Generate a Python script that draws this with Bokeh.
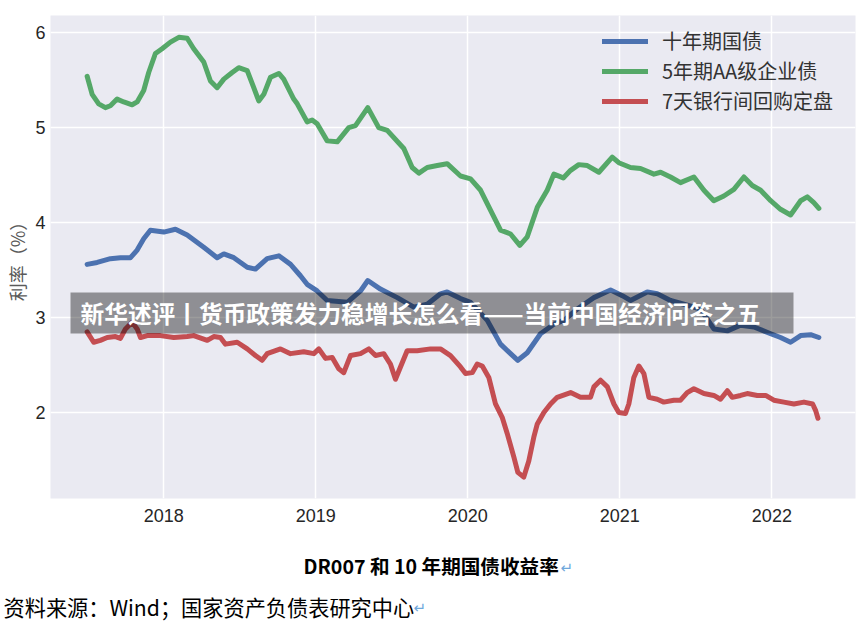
from bokeh.plotting import figure
from bokeh.models import Range1d, FixedTicker, Legend, LegendItem, Label, BoxAnnotation, Title
from bokeh.embed import file_html
from bokeh.resources import INLINE

# ---------------- data (decimal years, percent) ----------------
cgb_t = [2017.496, 2017.562, 2017.649, 2017.715, 2017.781, 2017.825, 2017.868, 2017.912,
         2018.000, 2018.077, 2018.154, 2018.263, 2018.351, 2018.395, 2018.461, 2018.549,
         2018.603, 2018.680, 2018.757, 2018.834, 2018.899, 2018.943, 2019.009, 2019.075,
         2019.207, 2019.294, 2019.342, 2019.425, 2019.536, 2019.645, 2019.733, 2019.820,
         2019.864, 2019.952, 2020.018, 2020.128, 2020.215, 2020.281, 2020.329, 2020.391,
         2020.478, 2020.566, 2020.632, 2020.720, 2020.829, 2020.939, 2021.016, 2021.070,
         2021.180, 2021.246, 2021.333, 2021.421, 2021.530, 2021.618, 2021.707, 2021.794,
         2021.882, 2021.992, 2022.057, 2022.123, 2022.189, 2022.255, 2022.309]
cgb_v = [3.56, 3.58, 3.62, 3.63, 3.63, 3.71, 3.83, 3.92,
         3.90, 3.93, 3.87, 3.74, 3.63, 3.67, 3.63, 3.53,
         3.51, 3.62, 3.65, 3.56, 3.44, 3.35, 3.28, 3.18,
         3.16, 3.28, 3.39, 3.30, 3.21, 3.11, 3.14, 3.25,
         3.27, 3.20, 3.16, 2.97, 2.72, 2.62, 2.55, 2.63,
         2.83, 2.93, 2.97, 3.09, 3.21, 3.29, 3.23, 3.18,
         3.27, 3.25, 3.18, 3.14, 3.09, 2.88, 2.86, 2.92,
         2.90, 2.83, 2.79, 2.74, 2.81, 2.82, 2.79]

aa_t = [2017.496, 2017.529, 2017.572, 2017.616, 2017.649, 2017.693, 2017.737, 2017.792,
        2017.825, 2017.868, 2017.901, 2017.945, 2017.989, 2018.044, 2018.099, 2018.154,
        2018.197, 2018.263, 2018.307, 2018.351, 2018.395, 2018.450, 2018.493, 2018.549,
        2018.592, 2018.625, 2018.658, 2018.702, 2018.757, 2018.789, 2018.855, 2018.878,
        2018.943, 2018.976, 2019.009, 2019.075, 2019.141, 2019.217, 2019.261, 2019.342,
        2019.414, 2019.470, 2019.579, 2019.634, 2019.678, 2019.733, 2019.799, 2019.864,
        2019.952, 2020.018, 2020.084, 2020.149, 2020.215, 2020.281, 2020.342, 2020.391,
        2020.457, 2020.522, 2020.566, 2020.628, 2020.676, 2020.730, 2020.786, 2020.862,
        2020.950, 2020.993, 2021.070, 2021.136, 2021.224, 2021.268, 2021.333, 2021.399,
        2021.487, 2021.553, 2021.618, 2021.684, 2021.750, 2021.816, 2021.871, 2021.926,
        2021.992, 2022.057, 2022.123, 2022.189, 2022.233, 2022.276, 2022.309]
aa_v = [5.54, 5.35, 5.25, 5.21, 5.23, 5.30, 5.27, 5.24,
        5.27, 5.39, 5.58, 5.78, 5.83, 5.90, 5.95, 5.94,
        5.83, 5.69, 5.49, 5.42, 5.51, 5.58, 5.63, 5.60,
        5.42, 5.28, 5.35, 5.53, 5.57, 5.51, 5.30, 5.25,
        5.06, 5.08, 5.04, 4.86, 4.85, 5.00, 5.02, 5.21,
        5.00, 4.97, 4.78, 4.58, 4.52, 4.58, 4.60, 4.62,
        4.49, 4.46, 4.34, 4.13, 3.92, 3.88, 3.76, 3.85,
        4.16, 4.34, 4.51, 4.47, 4.55, 4.61, 4.60, 4.53,
        4.69, 4.63, 4.58, 4.57, 4.51, 4.53, 4.48, 4.42,
        4.48, 4.34, 4.23, 4.28, 4.35, 4.48, 4.39, 4.34,
        4.23, 4.14, 4.08, 4.23, 4.27, 4.21, 4.15]

dr_t = [2017.496, 2017.539, 2017.583, 2017.628, 2017.682, 2017.715, 2017.748, 2017.792,
        2017.825, 2017.847, 2017.891, 2017.978, 2018.066, 2018.154, 2018.197, 2018.286,
        2018.329, 2018.373, 2018.406, 2018.483, 2018.549, 2018.603, 2018.647, 2018.680,
        2018.768, 2018.834, 2018.921, 2018.987, 2019.020, 2019.064, 2019.108, 2019.151,
        2019.184, 2019.228, 2019.294, 2019.349, 2019.393, 2019.447, 2019.491, 2019.524,
        2019.557, 2019.601, 2019.667, 2019.755, 2019.820, 2019.886, 2019.952, 2019.985,
        2020.029, 2020.062, 2020.095, 2020.138, 2020.182, 2020.226, 2020.259, 2020.303,
        2020.329, 2020.368, 2020.401, 2020.434, 2020.457, 2020.500, 2020.544, 2020.588,
        2020.676, 2020.741, 2020.807, 2020.829, 2020.873, 2020.918, 2020.961, 2020.993,
        2021.037, 2021.059, 2021.092, 2021.125, 2021.158, 2021.191, 2021.246, 2021.289,
        2021.355, 2021.399, 2021.443, 2021.487, 2021.553, 2021.618, 2021.662, 2021.707,
        2021.739, 2021.794, 2021.838, 2021.904, 2021.959, 2022.013, 2022.079, 2022.145,
        2022.211, 2022.268, 2022.288, 2022.303]
dr_v = [2.85, 2.74, 2.76, 2.79, 2.80, 2.78, 2.88, 2.95,
        2.88, 2.79, 2.81, 2.81, 2.79, 2.80, 2.81, 2.76,
        2.80, 2.79, 2.72, 2.74, 2.67, 2.60, 2.55, 2.62,
        2.67, 2.62, 2.64, 2.62, 2.67, 2.57, 2.58, 2.46,
        2.42, 2.60, 2.62, 2.67, 2.60, 2.62, 2.51, 2.35,
        2.48, 2.65, 2.65, 2.67, 2.67, 2.60, 2.48, 2.41,
        2.42, 2.51, 2.49, 2.37, 2.09, 1.95, 1.78, 1.53,
        1.37, 1.32, 1.49, 1.74, 1.88, 2.00, 2.09, 2.16,
        2.21, 2.16, 2.16, 2.27, 2.34, 2.27, 2.09, 2.00,
        1.99, 2.09, 2.37, 2.49, 2.41, 2.16, 2.14, 2.11,
        2.13, 2.13, 2.21, 2.25, 2.20, 2.18, 2.14, 2.23,
        2.16, 2.18, 2.20, 2.18, 2.18, 2.13, 2.11, 2.09,
        2.11, 2.09, 2.02, 1.94]

year_ticks = [2018, 2019, 2020, 2021, 2022]
y_ticks = [2, 3, 4, 5, 6]
legend_labels = ["十年期国债", "5年期AA级企业债", "7天银行间回购定盘"]
series_colors = ["#4C72B0", "#55A868", "#C44E52"]
banner_text = "新华述评丨货币政策发力稳增长怎么看——当前中国经济问答之五"
caption_text = "DR007 和 10 年期国债收益率"
source_text = "资料来源：Wind；国家资产负债表研究中心"
y_label_text = "利率（%）"
para_mark = "↵"

# ---------------- layout helpers (page pixels -> data) ----------------
W, H = 864, 626
X0, X1 = 2017.255, 2022.55
Y0, Y1 = 1.095, 6.18
FL, FR, FT, FB = 50, 855, 15, 498


def px2x(px):
    return X0 + (px - FL) / (FR - FL) * (X1 - X0)


def py2y(py):
    return Y1 - (py - FT) / (FB - FT) * (Y1 - Y0)


p = figure(width=W, height=H, x_range=Range1d(X0, X1), y_range=Range1d(Y0, Y1),
           output_backend="svg", toolbar_location=None,
           min_border_left=FL, min_border_right=W - FR, min_border_top=FT,
           min_border_bottom=H - FB,
           background_fill_color="#EAEAF2", border_fill_color="white",
           outline_line_color=None)

for ax in (p.xaxis, p.yaxis):
    ax.axis_line_color = None
    ax.major_tick_line_color = None
    ax.minor_tick_line_color = None
    ax.major_tick_out = 0
    ax.major_tick_in = 0
    ax.major_label_text_font = "Liberation Sans"
    ax.major_label_text_font_size = "18px"
    ax.major_label_text_color = "#262626"
p.xaxis.ticker = FixedTicker(ticks=year_ticks)
p.yaxis.ticker = FixedTicker(ticks=y_ticks)
p.xaxis.major_label_standoff = 10
p.yaxis.major_label_standoff = 5
p.yaxis.axis_label = y_label_text
p.yaxis.axis_label_text_font = "Noto Sans CJK SC"
p.yaxis.axis_label_text_font_size = "18px"
p.yaxis.axis_label_text_font_style = "normal"
p.yaxis.axis_label_text_color = "#5a5a5a"
p.yaxis.axis_label_standoff = 2
p.xgrid.ticker = FixedTicker(ticks=year_ticks)
p.ygrid.ticker = FixedTicker(ticks=y_ticks)
for g in (p.xgrid, p.ygrid):
    g.grid_line_color = "white"
    g.grid_line_width = 1.5

renderers = []
for (t, v), c in zip([(cgb_t, cgb_v), (aa_t, aa_v), (dr_t, dr_v)], series_colors):
    r = p.line(t, v, line_width=5, line_color=c, line_join="round", line_cap="round")
    renderers.append(r)

legend = Legend(items=[LegendItem(label=l, renderers=[r]) for l, r in zip(legend_labels, renderers)],
                location=(552, 383), padding=0, margin=0, spacing=1,
                glyph_width=46, glyph_height=20, label_height=20, label_standoff=14,
                label_text_font="Noto Sans CJK SC", label_text_font_size="20px",
                label_text_color="#333333", border_line_color=None,
                background_fill_alpha=0)
p.add_layout(legend)

# overlay banner
p.add_layout(BoxAnnotation(left=px2x(70), right=px2x(793), top=py2y(292), bottom=py2y(333),
                           fill_color="black", fill_alpha=0.39, line_color=None))
p.add_layout(Label(x=px2x(80), y=py2y(312.5), text=banner_text, text_font="Noto Sans CJK SC",
                   text_font_style="bold", text_font_size="23.7px", text_color="white",
                   text_baseline="middle", text_align="left"))

# caption and source as titles below the x axis
p.add_layout(Title(text=caption_text, align="left", offset=303 - FL, standoff=48,
                   text_font="Noto Sans CJK SC", text_font_style="bold",
                   text_font_size="19.6px", text_color="black"), "below")
p.add_layout(Title(text=source_text, align="left", offset=3 - FL, standoff=-36,
                   text_font="Noto Sans CJK SC", text_font_style="normal",
                   text_font_size="21.2px", text_color="black"), "below")
# blue paragraph marks (drawn last, anchored at their top edge)
p.add_layout(Title(text=para_mark, align="left", offset=413 - FL, standoff=-10,
                   vertical_align="top", text_font="DejaVu Sans", text_font_style="normal",
                   text_font_size="15px", text_color="#6FA8DC"), "below")
p.add_layout(Title(text=para_mark, align="left", offset=560 - FL, standoff=-110,
                   vertical_align="top", text_font="DejaVu Sans", text_font_style="normal",
                   text_font_size="15px", text_color="#6FA8DC"), "below")

open("out.html", "w").write(file_html(p, INLINE))
